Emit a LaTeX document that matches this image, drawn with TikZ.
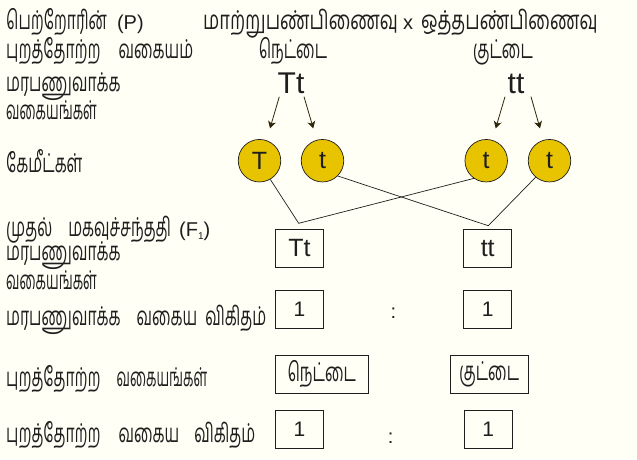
\documentclass[tikz,border=0pt]{standalone}
\usepackage{fontspec}
\setmainfont{Liberation Sans}
\newfontfamily\tam[Script=Tamil,FakeStretch=0.6]{Hind Madurai}
\newfontfamily\tamw[Script=Tamil,FakeStretch=0.7]{Hind Madurai}
\newfontfamily\tamn[Script=Tamil,FakeStretch=0.52]{Hind Madurai}
\usetikzlibrary{arrows.meta}
\definecolor{bg}{RGB}{255,255,245}
\definecolor{gold}{RGB}{232,196,0}
\definecolor{arr}{RGB}{45,38,10}
\definecolor{ink}{RGB}{30,30,30}
\newcommand{\gp}[1]{\hspace{#1pt}}
\newcommand{\latn}[1]{{\rmfamily\fontsize{20}{20}\selectfont #1}}
\newcommand{\vkg}{{\tamn வகையங்கள்}}
\begin{document}
\begin{tikzpicture}[x=1pt,y=-1pt,
  lab/.style={anchor=base west,inner sep=0pt,text=ink,font=\tam\fontsize{26}{26}\selectfont},
  labc/.style={anchor=base,inner sep=0pt,text=ink,font=\tam\fontsize{26}{26}\selectfont},
  big/.style={anchor=base,inner sep=0pt,text=ink,font=\fontsize{30}{30}\selectfont},
  gam/.style={circle,draw=ink,line width=0.7pt,fill=gold,minimum size=42.5pt,inner sep=0pt,text=ink,font=\fontsize{25}{25}\selectfont},
  bx/.style={draw=ink,line width=0.7pt,inner sep=0pt,text=ink},
  arw/.style={draw=arr,line width=0.8pt,-{Stealth[length=7pt,width=8pt,inset=2pt]}},
  ln/.style={draw=ink,line width=0.7pt}]
\fill[bg] (0,0) rectangle (637,459);
\useasboundingbox (0,0) rectangle (637,459);
% left labels
\node[lab] (l1) at (6,29) {பெற்றோரின்\gp{10}\latn{(P)}};
\node[lab] (l2) at (6,58) {புறத்தோற்ற\gp{18}வகையம்};
\node[lab] (l3) at (6,91) {மரபணுவாக்க};
\node[lab] (l4) at (6,119) {\vkg};
\node[lab] (l5) at (6,172) {கேமீட்கள்};
\node[lab] (l6) at (6,236) {முதல்\gp{16}மகவுச்சந்ததி\gp{8}\latn{(F\raisebox{-0.35ex}{\fontsize{10}{10}\selectfont 1})}};
\node[lab] (l7) at (6,260) {மரபணுவாக்க};
\node[lab] (l8) at (6,289) {\vkg};
\node[lab] (l9) at (6,325) {மரபணுவாக்க\gp{16}வகைய\gp{8}விகிதம்};
\node[lab] (l10) at (6,386) {புறத்தோற்ற\gp{16}\vkg};
\node[lab] (l11) at (6,442) {புறத்தோற்ற\gp{18}வகைய\gp{15}விகிதம்};
% top
\node[lab,font=\tamw\fontsize{26}{26}\selectfont] (title) at (203,29) {மாற்றுபண்பிணைவு\gp{5}\latn{x}\gp{8}ஒத்தபண்பிணைவு};
\node[labc] (ph1) at (293,58) {நெட்டை};
\node[labc] (ph2) at (503,58) {குட்டை};
\node[big] (g1) at (291,93) {Tt};
\node[big] (g2) at (516,93) {tt};
% gametes
\node[gam] (c1) at (259.5,160.7) {T};
\node[gam] (c2) at (322.5,160.7) {t};
\node[gam] (c3) at (486.2,160.7) {t};
\node[gam] (c4) at (549.5,160.7) {t};
% arrows
\coordinate (a1s) at (279.3,96.7); \coordinate (a1e) at (270,128.3);
\coordinate (a2s) at (304,96.7);   \coordinate (a2e) at (313.3,128.3);
\coordinate (a3s) at (505,96.7);   \coordinate (a3e) at (495.7,128.3);
\coordinate (a4s) at (531,96.7);   \coordinate (a4e) at (540,128.3);
\draw[arw] (a1s) -- (a1e);
\draw[arw] (a2s) -- (a2e);
\draw[arw] (a3s) -- (a3e);
\draw[arw] (a4s) -- (a4e);
% crossing lines
\coordinate (v1) at (298.7,223.3);
\coordinate (v2) at (488.3,225.7);
\draw[ln] (c1.-60) -- (v1) -- (c3.-125);
\draw[ln] (c2.-45) -- (v2) -- (c4.-130);
% boxes
\node[bx,minimum width=47.6pt,minimum height=38pt,font=\fontsize{25}{25}\selectfont] (f1) at (299.5,248.3) {Tt};
\node[bx,minimum width=48pt,minimum height=38pt,font=\fontsize{25}{25}\selectfont] (f2) at (487.7,248.3) {tt};
\node[bx,minimum width=47.6pt,minimum height=38pt,font=\fontsize{21}{21}\selectfont] (r1) at (299.5,309.3) {1};
\node[bx,minimum width=48pt,minimum height=38pt,font=\fontsize{21}{21}\selectfont] (r2) at (487.7,309.7) {1};
\node[anchor=center,inner sep=0pt,text=ink,font=\fontsize{20}{20}\selectfont] (col1) at (393.3,313) {:};
\node[bx,minimum width=93.7pt,minimum height=38pt,font=\tam\fontsize{26}{26}\selectfont] (p1) at (321.8,374.3) {நெட்டை};
\node[bx,minimum width=78.7pt,minimum height=38pt,font=\tam\fontsize{26}{26}\selectfont] (p2) at (489.3,374.3) {குட்டை};
\node[bx,minimum width=47.6pt,minimum height=38pt,font=\fontsize{21}{21}\selectfont] (q1) at (299.5,429.7) {1};
\node[bx,minimum width=48pt,minimum height=38pt,font=\fontsize{21}{21}\selectfont] (q2) at (488.3,429.7) {1};
\node[anchor=center,inner sep=0pt,text=ink,font=\fontsize{20}{20}\selectfont] (col2) at (390.7,438) {:};
\end{tikzpicture}
\end{document}
